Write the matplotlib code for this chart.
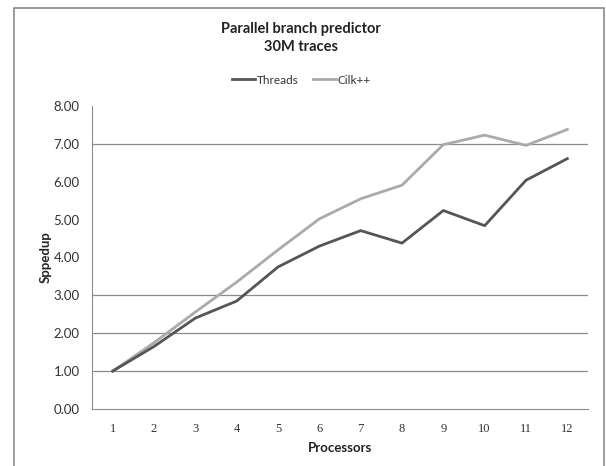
import matplotlib.pyplot as plt
from matplotlib.patches import Rectangle

processors = list(range(1, 13))
threads = [1.00, 1.65, 2.40, 2.85, 3.75, 4.30, 4.71, 4.38, 5.24, 4.84, 6.04, 6.61]
cilk = [1.00, 1.75, 2.56, 3.35, 4.20, 5.02, 5.55, 5.91, 6.98, 7.23, 6.96, 7.38]
grid_vals = [1, 2, 3, 7]
ytick_vals = [0, 1, 2, 3, 4, 5, 6, 7, 8]

fig = plt.figure(figsize=(6.06, 4.66), dpi=100)
ax = fig.add_axes([92 / 606, 1 - 409 / 466, 496 / 606, 303 / 466])

# outer chart border
fig.patches.append(Rectangle((14 / 606, -0.01), 590 / 606, 1 - 8 / 466 + 0.01,
                             transform=fig.transFigure, fill=False,
                             edgecolor='#8a8a8a', linewidth=1.2))

for g in grid_vals:
    ax.axhline(g, color='#8c8c8c', linewidth=0.9, zorder=1)

ax.plot(processors, threads, color='#555555', linewidth=2, label='Threads', zorder=3)
ax.plot(processors, cilk, color='#aaaaaa', linewidth=2, label='Cilk++', zorder=2)

ax.set_xlim(0.5, 12.5)
ax.set_ylim(0, 8)
ax.set_xticks(processors)
ax.set_xticklabels([str(p) for p in processors], family='Liberation Serif',
                   fontsize=9, color='#333333')
ax.set_yticks(ytick_vals)
ax.set_yticklabels(['%.2f' % v for v in ytick_vals], family='Lato',
                   fontsize=9.5, color='#333333')
ax.tick_params(axis='x', length=0, pad=10)
ax.tick_params(axis='y', length=0, pad=9)

for s in ['top', 'right']:
    ax.spines[s].set_visible(False)
ax.spines['left'].set_color('#8c8c8c')
ax.spines['bottom'].set_color('#8c8c8c')

ax.set_xlabel('Processors', family='Lato', fontsize=9.5, fontweight='bold',
              color='#222222', labelpad=5)
ax.set_ylabel('Sppedup', family='Lato', fontsize=9.5, fontweight='bold',
              color='#222222', labelpad=1)

fig.text(0.497, 1 - 38 / 466, 'Parallel branch predictor\n30M traces', ha='center', va='center',
         family='Lato', fontsize=10.5, fontweight='bold', color='#222222', linespacing=1.35)

fig.legend(loc='center', bbox_to_anchor=(0.497, 1 - 80 / 466), ncol=2, frameon=False,
           prop={'family': 'Lato', 'size': 8.5}, handlelength=2.0, handletextpad=0.1,
           columnspacing=1.2, labelcolor='#333333')

fig.savefig('out.png', dpi=100)
